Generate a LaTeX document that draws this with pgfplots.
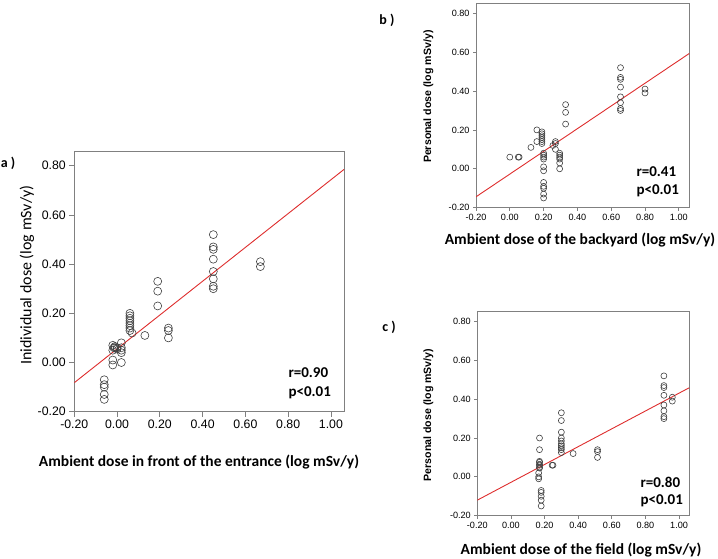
\documentclass[border=0pt]{standalone}
\usepackage{pgfplots}
\pgfplotsset{compat=1.18}
\usepackage{fontspec}
\setmainfont{Liberation Sans}
\newfontfamily\calibri{Carlito}

\definecolor{framegray}{RGB}{128,128,128}
\definecolor{fitred}{RGB}{222,45,45}

\pgfplotsset{
  spss/.style={
    scale only axis, anchor=south west,
    xmin=-0.2, ymin=-0.2,
    xtick={-0.2,0,0.2,0.4,0.6,0.8,1.0},
    ytick={-0.2,0,0.2,0.4,0.6,0.8},
    axis line style={framegray, line width=1pt},
    tick style={framegray, line width=0.8pt},
    tick align=outside, xtick pos=left, ytick pos=left,
    /pgf/number format/.cd, fixed, fixed zerofill, precision=2, assume math mode=true,
  },
  dots/.style={only marks, mark=o, black!75, mark options={line width=0.6pt}},
  fit/.style={fitred, line width=0.9pt, no marks},
}

\begin{document}
\begin{tikzpicture}[x=1pt,y=1pt]
\useasboundingbox (0,0) rectangle (718,558);

% a) entrance
\begin{axis}[spss, at={(74.3pt,146.3pt)}, width=269.7pt, height=260pt,
  xmax=1.061, ymax=0.857, major tick length=5pt,
  ticklabel style={font=\fontsize{12.3}{14}\selectfont}]
\addplot[fit] coordinates {(-0.2,-0.082) (1.061,0.785)};
\addplot[dots, mark size=4pt] coordinates {
(-0.06,-0.07)(-0.06,-0.09)(-0.06,-0.10)(-0.06,-0.13)(-0.06,-0.15)
(-0.02,0.07)(-0.02,0.05)(-0.02,0.01)(-0.02,-0.01)
(-0.01,0.06)(-0.01,0.065)(0.00,0.06)(0.00,0.055)(-0.015,0.06)
(0.02,0.08)(0.02,0.06)(0.02,0.05)(0.02,0.04)(0.02,0.00)
(0.06,0.20)(0.06,0.19)(0.06,0.18)(0.06,0.17)(0.06,0.16)(0.06,0.15)(0.06,0.14)(0.06,0.13)(0.07,0.12)
(0.13,0.11)
(0.19,0.33)(0.19,0.29)(0.19,0.23)
(0.24,0.14)(0.24,0.13)(0.24,0.10)
(0.45,0.52)(0.45,0.47)(0.45,0.46)(0.45,0.42)(0.45,0.37)(0.45,0.34)(0.45,0.31)(0.45,0.30)
(0.67,0.41)(0.67,0.39)};
\end{axis}

% b) backyard
\begin{axis}[spss, at={(476pt,350.3pt)}, width=213.3pt, height=204.4pt,
  xmax=1.062, ymax=0.851, major tick length=3pt,
  axis line style={line width=0.8pt},
  ticklabel style={font=\fontsize{9.1}{11}\selectfont}]
\addplot[fit] coordinates {(-0.2,-0.144) (1.062,0.593)};
\addplot[dots, mark size=3pt] coordinates {
(0.00,0.06)(0.055,0.06)(0.05,0.06)(0.125,0.11)(0.16,0.20)(0.16,0.14)
(0.19,0.19)(0.19,0.18)(0.19,0.17)(0.19,0.16)(0.19,0.15)(0.19,0.14)(0.19,0.13)
(0.20,0.08)(0.20,0.07)(0.20,0.06)(0.20,0.05)(0.20,0.01)(0.20,-0.01)(0.20,-0.07)(0.20,-0.09)(0.20,-0.10)(0.20,-0.13)(0.20,-0.15)
(0.255,0.12)(0.27,0.14)(0.27,0.13)(0.27,0.10)
(0.295,0.08)(0.295,0.07)(0.295,0.06)(0.295,0.05)(0.295,0.03)(0.295,0.00)
(0.33,0.33)(0.33,0.29)(0.33,0.23)
(0.655,0.52)(0.655,0.47)(0.655,0.46)(0.655,0.42)(0.655,0.37)(0.655,0.34)(0.655,0.31)(0.655,0.30)
(0.80,0.41)(0.80,0.39)};
\end{axis}

% c) field
\begin{axis}[spss, at={(477.3pt,42.3pt)}, width=212pt, height=204.7pt,
  xmax=1.061, ymax=0.854, major tick length=3pt,
  axis line style={line width=0.8pt},
  ticklabel style={font=\fontsize{9.1}{11}\selectfont}]
\addplot[fit] coordinates {(-0.2,-0.120) (1.061,0.459)};
\addplot[dots, mark size=3pt] coordinates {
(0.17,0.20)(0.17,0.14)(0.17,0.08)(0.17,0.075)(0.17,0.065)(0.17,0.06)(0.17,0.05)(0.17,0.045)(0.165,0.02)(0.165,0.00)(0.165,-0.01)
(0.18,-0.07)(0.18,-0.08)(0.18,-0.10)(0.18,-0.12)(0.18,-0.15)
(0.245,0.06)(0.25,0.06)
(0.30,0.33)(0.30,0.29)(0.30,0.23)(0.30,0.20)(0.30,0.185)(0.30,0.17)(0.30,0.16)(0.30,0.15)(0.30,0.14)(0.30,0.125)
(0.37,0.12)
(0.515,0.14)(0.515,0.13)(0.515,0.10)
(0.91,0.52)(0.91,0.47)(0.91,0.46)(0.91,0.42)(0.91,0.37)(0.91,0.34)(0.91,0.31)(0.91,0.30)
(0.96,0.41)(0.96,0.39)};
\end{axis}

% labels
\node[font=\calibri\bfseries\fontsize{15.5}{18}\selectfont] at (199,96.3) {Ambient dose in front of the entrance (log mSv/y)};
\node[rotate=90, font=\calibri\fontsize{16}{19}\selectfont] at (27,283) {Inidividual dose (log mSv/y)};
\node[font=\calibri\bfseries\fontsize{14}{16}\selectfont] at (8,395) {a )};
\node[font=\calibri\bfseries\fontsize{15}{18}\selectfont, anchor=west] at (285,185) {r=0.90};
\node[font=\calibri\bfseries\fontsize{15}{18}\selectfont, anchor=west] at (285,165.3) {p<0.01};

\node[font=\calibri\bfseries\fontsize{15.5}{18}\selectfont] at (580,318) {Ambient dose of the backyard (log mSv/y)};
\node[rotate=90, font=\bfseries\fontsize{10.6}{12}\selectfont] at (428.3,461.3) {Personal dose (log mSv/y)};
\node[font=\calibri\bfseries\fontsize{14}{16}\selectfont] at (387,538) {b )};
\node[font=\calibri\bfseries\fontsize{15}{18}\selectfont, anchor=west] at (633,386) {r=0.41};
\node[font=\calibri\bfseries\fontsize{15}{18}\selectfont, anchor=west] at (633,367) {p<0.01};

\node[font=\calibri\bfseries\fontsize{15.5}{18}\selectfont] at (581,8) {Ambient dose of the field (log mSv/y)};
\node[rotate=90, font=\bfseries\fontsize{10.6}{12}\selectfont] at (428.3,143) {Personal dose (log mSv/y)};
\node[font=\calibri\bfseries\fontsize{14}{16}\selectfont] at (389,231) {c )};
\node[font=\calibri\bfseries\fontsize{15}{18}\selectfont, anchor=west] at (637,76) {r=0.80};
\node[font=\calibri\bfseries\fontsize{15}{18}\selectfont, anchor=west] at (637,57.3) {p<0.01};
\end{tikzpicture}
\end{document}
